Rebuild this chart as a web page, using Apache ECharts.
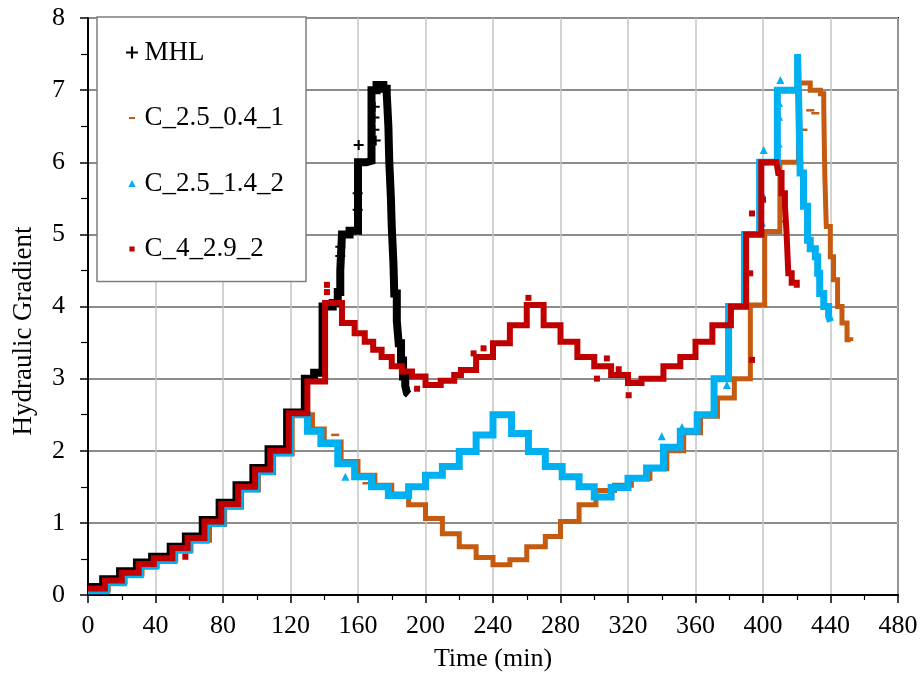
<!DOCTYPE html>
<html><head><meta charset="utf-8">
<script src="https://cdn.jsdelivr.net/npm/echarts@6/dist/echarts.min.js"></script>
<style>html,body{margin:0;padding:0;background:#fff}#c{width:922px;height:679px}</style>
</head><body><div id="c"></div>
<script>
// ---- data ----
const seriesNames = ['MHL', 'C_2.5_0.4_1', 'C_2.5_1.4_2', 'C_4_2.9_2'];
const xTickValues = [0, 40, 80, 120, 160, 200, 240, 280, 320, 360, 400, 440, 480];
const yTickValues = [0, 1, 2, 3, 4, 5, 6, 7, 8];

const mhlTime  = [0, 9, 19, 29, 38, 49, 58, 68, 78, 88, 98, 107, 118, 128.5, 134, 139, 145, 148, 149.5, 150.5, 155, 160, 165, 168, 171, 175, 177, 178, 178.5, 179.5, 180, 181, 181.5, 183, 184.1, 185.5, 186.7, 188, 189, 190];
const mhlValue = [0.11, 0.22, 0.33, 0.45, 0.53, 0.67, 0.81, 1.04, 1.28, 1.52, 1.76, 2.02, 2.53, 3.0, 3.08, 4.0, 4.05, 4.2, 4.5, 5.0, 5.05, 6.0, 6.02, 7.0, 7.07, 7.02, 6.96, 6.5, 6.03, 5.5, 5.11, 4.6, 4.18, 3.8, 3.49, 3.25, 3.03, 2.9, 2.8, 2.78];
const mhlLooseTime  = [149.5, 149.5, 159.8, 159.8, 160.4, 169.7, 169.7, 169.9, 170.5];
const mhlLooseValue = [4.7, 4.83, 5.34, 5.57, 6.24, 6.45, 6.62, 6.77, 6.3];

const c1Time  = [0, 12, 22, 32, 41, 52, 61, 72, 81, 91, 101, 110, 121, 133, 140, 150, 160, 170, 180, 190, 200, 210, 220, 230, 240, 250, 260, 271, 280, 291, 301, 312, 322, 333, 343, 353, 363, 373, 383, 392.5, 401, 410, 421, 428, 434, 436, 436.6, 437.5, 439.9, 441.8, 444.2, 446.8, 449.8, 452];
const c1Value = [0.07, 0.18, 0.29, 0.4, 0.49, 0.62, 0.76, 0.98, 1.22, 1.46, 1.7, 1.96, 2.5, 2.3, 2.12, 1.85, 1.66, 1.52, 1.4, 1.25, 1.06, 0.85, 0.67, 0.52, 0.42, 0.49, 0.67, 0.81, 1.02, 1.25, 1.45, 1.52, 1.62, 1.75, 2.0, 2.25, 2.48, 2.73, 3.0, 4.02, 5.04, 6.0, 7.1, 7.0, 6.95, 6.77, 5.85, 5.11, 4.69, 4.37, 4.0, 3.77, 3.54, 3.52];
const c1LooseTime  = [146.5, 165, 411.5, 428, 431, 424];
const c1LooseValue = [2.22, 1.55, 5.18, 6.72, 6.68, 6.45];

const c2Time  = [0, 11, 21, 31, 40, 51, 60, 70, 80, 90, 100, 109, 120, 130, 138, 148, 158, 168, 178, 190, 200, 210, 220, 230, 240, 251, 261, 271, 281, 291, 300, 310, 320, 331, 341, 351, 361, 371, 379.6, 389, 398, 408.5, 420.5, 421.5, 422, 424, 426.4, 428, 431, 432.4, 433.6, 436, 438.9, 440];
const c2Value = [0.06, 0.17, 0.28, 0.4, 0.48, 0.62, 0.76, 0.99, 1.23, 1.47, 1.71, 1.97, 2.5, 2.27, 2.1, 1.82, 1.64, 1.5, 1.38, 1.5, 1.66, 1.78, 1.99, 2.22, 2.5, 2.24, 1.99, 1.78, 1.64, 1.5, 1.36, 1.49, 1.62, 1.76, 2.05, 2.27, 2.5, 3.0, 4.0, 5.0, 6.0, 7.0, 7.5, 6.5, 5.85, 5.39, 4.92, 4.8, 4.69, 4.46, 4.18, 4.0, 3.86, 3.79];
const c2LooseTime  = [152.5, 340, 352, 378.6, 399.4, 399.4, 400.4, 409.3, 409.5, 409.5, 410.3];
const c2LooseValue = [1.64, 2.2, 2.33, 2.91, 5.16, 5.57, 6.17, 6.26, 6.63, 6.82, 7.14];

const c3Time  = [0, 10, 20, 30, 39, 50, 59, 69, 79, 89, 99, 108, 119, 130, 140.5, 150.5, 158, 164, 169, 174, 180, 186, 192, 200, 209, 217, 221, 230, 240, 250, 260, 270, 280, 290, 300, 310, 320, 328, 341, 351, 360, 370, 381, 390, 399, 408, 409, 411, 413, 414, 415, 417, 420];
const c3Value = [0.09, 0.2, 0.31, 0.43, 0.51, 0.65, 0.79, 1.02, 1.26, 1.5, 1.74, 2.0, 2.52, 2.96, 4.05, 3.77, 3.63, 3.51, 3.4, 3.3, 3.17, 3.1, 3.03, 2.91, 2.97, 3.05, 3.12, 3.3, 3.49, 3.74, 4.02, 3.74, 3.51, 3.3, 3.17, 3.05, 2.94, 3.0, 3.17, 3.3, 3.51, 3.74, 4.0, 5.0, 6.0, 6.0, 5.85, 5.57, 5.39, 5.0, 4.46, 4.33, 4.26];
const c3LooseTime  = [57.7, 141.6, 141.6, 195, 228.5, 234.4, 261, 301.6, 307.5, 314.5, 320.4, 392.4, 393.5, 393.5, 400];
const c3LooseValue = [0.53, 4.2, 4.3, 2.86, 3.35, 3.42, 4.12, 3.0, 3.28, 3.13, 2.77, 4.46, 5.29, 3.26, 5.48];

// ---- helpers ----
const zip = (t, v) => t.map((x, i) => [x, v[i]]);
const FONT = 'Liberation Serif';
const colors = ['#000000', '#c55a11', '#00b0f0', '#c00000'];
const plusPath = 'path://M4,0h2v4h4v2h-4v4h-2v-4h-4v-2h4z';
const dashPath = 'path://M0,0h8v2.5h-8z';
// legend icons, padded inside a 12x12 frame with invisible corner specks
const pad = (p) => 'path://M0,0h0.01v0.01h-0.01z ' + p + ' M11.99,11.99h0.01v0.01h-0.01z';
const legendIcons = [
  'path://M5,0.5h2v4.5h4.5v2h-4.5v4.5h-2v-4.5h-4.5v-2h4.5z',
  pad('M3,5h6v2h-6z'),
  pad('M2.3,9.6L6,2.4L9.7,9.6z'),
  pad('M3.4,3.4h5.2v5.2h-5.2z')
];

const lines = [zip(mhlTime, mhlValue), zip(c1Time, c1Value), zip(c2Time, c2Value), zip(c3Time, c3Value)];
const loose = [zip(mhlLooseTime, mhlLooseValue), zip(c1LooseTime, c1LooseValue), zip(c2LooseTime, c2LooseValue), zip(c3LooseTime, c3LooseValue)];
const widths = [8, 5, 7, 6];
const looseSymbols = [plusPath, dashPath, 'triangle', 'rect'];
const looseSizes = [10, [8, 2.5], 8, 6];

const series = [];
seriesNames.forEach((name, i) => {
  series.push({
    name, type: 'line', step: 'end', data: lines[i], showSymbol: false, symbol: 'none',
    lineStyle: { color: colors[i], width: widths[i], join: 'miter', cap: 'butt' },
    itemStyle: { color: colors[i] }, z: 2 + i, silent: true
  });
  series.push({
    name, type: 'scatter', data: loose[i], symbol: looseSymbols[i], symbolSize: looseSizes[i],
    itemStyle: { color: colors[i], opacity: 1 }, z: 2 + i, silent: true
  });
});

const chart = echarts.init(document.getElementById('c'), null, { renderer: 'canvas' });
chart.setOption({
  animation: false,
  backgroundColor: '#ffffff',
  grid: { left: 88, right: 24, top: 18, bottom: 84, show: true, borderColor: '#000', borderWidth: 2, containLabel: false },
  legend: {
    orient: 'vertical', left: 97, top: 17,
    padding: [22, 22, 19, 29], itemGap: 38.5, itemWidth: 15, itemHeight: 12,
    backgroundColor: '#ffffff', borderColor: '#7f7f7f', borderWidth: 1.5, borderRadius: 0,
    selectedMode: false,
    textStyle: { fontFamily: FONT, fontSize: 27, color: '#000', lineHeight: 26 },
    data: seriesNames.map((n, i) => ({ name: n, icon: legendIcons[i], itemStyle: { color: colors[i] } }))
  },
  xAxis: {
    type: 'value', min: xTickValues[0], max: xTickValues[xTickValues.length - 1], interval: 40,
    name: 'Time (min)', nameLocation: 'middle', nameGap: 51,
    nameTextStyle: { fontFamily: FONT, fontSize: 26, color: '#000' },
    axisLine: { show: true, onZero: false, lineStyle: { color: '#000', width: 2 } },
    axisTick: { show: true, inside: false, length: 8, lineStyle: { color: '#000', width: 1.5 } },
    minorTick: { show: true, splitNumber: 2, length: 5, lineStyle: { color: '#000', width: 1.2 } },
    splitLine: { show: true, lineStyle: { color: '#c4c4c4', width: 1.5 } },
    axisLabel: { fontFamily: FONT, fontSize: 26, color: '#000', margin: 18 }
  },
  yAxis: {
    type: 'value', min: yTickValues[0], max: yTickValues[yTickValues.length - 1], interval: 1,
    axisLine: { show: true, onZero: false, lineStyle: { color: '#000', width: 2 } },
    axisTick: { show: true, inside: false, length: 8, lineStyle: { color: '#000', width: 1.5 } },
    minorTick: { show: true, splitNumber: 2, length: 7, lineStyle: { color: '#000', width: 1.2 } },
    splitLine: { show: true, lineStyle: { color: '#8c8c8c', width: 2 } },
    axisLabel: { fontFamily: FONT, fontSize: 26, color: '#000', margin: 23 }
  },
  graphic: [{
    type: 'text', x: 24, y: 331, rotation: Math.PI / 2,
    style: { text: 'Hydraulic Gradient', font: '27px "Liberation Serif"', fill: '#000', align: 'center', verticalAlign: 'middle' }
  }],
  series
});
</script></body></html>
